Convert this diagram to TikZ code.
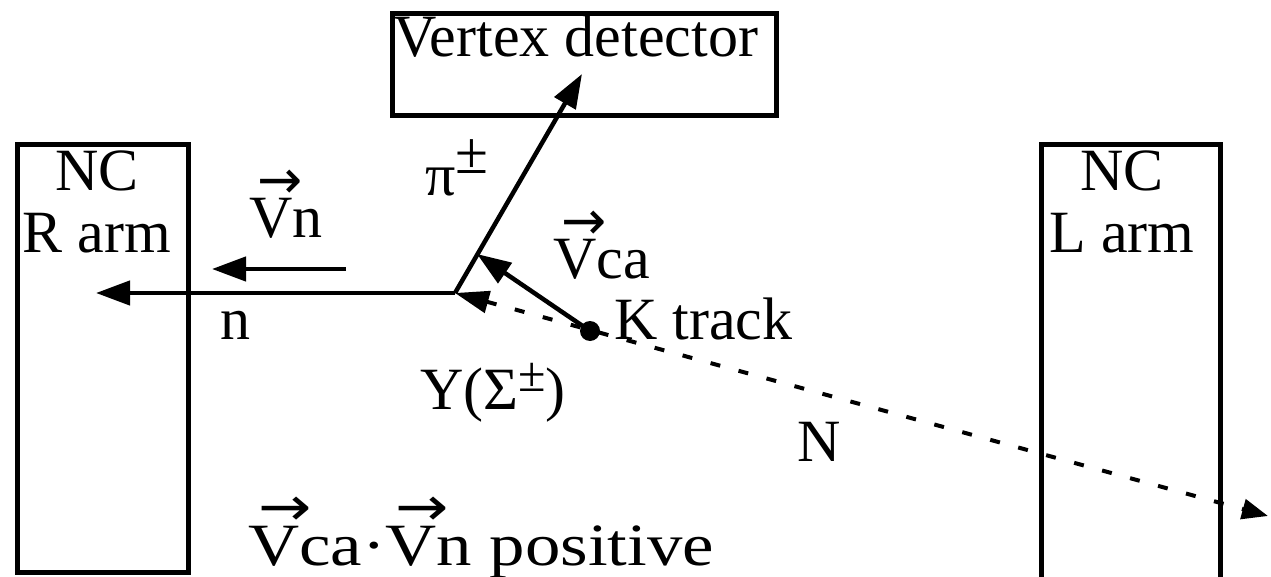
\documentclass[tikz,border=0pt]{standalone}
\usepackage{fontspec}
\setmainfont{Liberation Serif}
\newfontfamily\dejavu{DejaVu Sans}
\usetikzlibrary{arrows.meta}
\newcommand{\vV}{\makebox[0pt][l]{\hspace{0.14em}\raisebox{0.66em}{\fontsize{54}{54}\selectfont\dejavu →}}V}
\begin{document}
\begin{tikzpicture}[x=1pt,y=-1pt,
  box/.style={draw,line width=5pt,inner sep=0pt},
  lbl/.style={font=\fontsize{60}{57}\selectfont, inner sep=0pt},
  trk/.style={line width=4.5pt, -{Triangle[length=34pt,width=24pt]}},
  ]
\useasboundingbox (0,0) rectangle (1271,577);
% boxes
\node[box, minimum width=171pt, minimum height=427pt] (rarm) at (102.5,358.5) {};
\node[inner sep=0pt, minimum width=178pt, minimum height=432pt] (larm) at (1131,361) {};
\draw[line width=5pt] (larm.south west) -- (larm.north west) -- (larm.north east) -- (larm.south east);
\node[box, minimum width=384pt, minimum height=102pt] (vd) at (584,65) {};
% box labels
\node[lbl, anchor=base west] (vdt) at (393,57) {Vertex detector};
\node[lbl, anchor=base] (rnc) at (97,191) {NC};
\node[lbl, anchor=base] (rra) at (97,253) {R arm};
\node[lbl, anchor=base] (lnc) at (1122,191) {NC};
\node[lbl, anchor=base] (lla) at (1122,253) {L arm};
% geometry
\coordinate (v) at (455,293);
\coordinate (ntip) at (96,293);
\coordinate (vnS) at (346,269);
\coordinate (vnE) at (212,269);
\coordinate (pitip) at (582,74);
\coordinate (vcatip) at (477,254);
\coordinate (Nend) at (1268,516);
\node[circle, fill, inner sep=0pt, minimum size=20pt] (k) at (590,331) {};
% tracks
\draw[trk] (v) -- (ntip);
\draw[trk] (vnS) -- (vnE);
\draw[trk] (v) -- (pitip);
\draw[trk] (k.center) -- (vcatip);
\draw[line width=4pt, dash pattern=on 10pt off 19pt,
  {Triangle[length=34pt,width=22pt]}-{Triangle[length=26pt,width=20pt]}] (v) -- (Nend);
% labels
\node[lbl, anchor=base west] (vnl) at (249,238) {\vV n};
\node[lbl, anchor=base west] (nl) at (220,339) {n};
\node[lbl, anchor=base west] (pil) at (425,196) {π\raisebox{0.38em}{±}};
\node[lbl, anchor=base west] (vcal) at (553,279) {\vV ca};
\node[lbl, anchor=base west] (kl) at (614,339) {K track};
\node[lbl, anchor=base west] (yl) at (420,409) {Y(Σ\raisebox{0.3em}{\fontsize{50}{50}\selectfont ±})};
\node[lbl, anchor=base west] (Nl) at (797,461) {N};
\node[lbl, anchor=base west, xscale=1.18] (pos) at (248,565) {\vV ca·\vV n positive};
\end{tikzpicture}
\end{document}
